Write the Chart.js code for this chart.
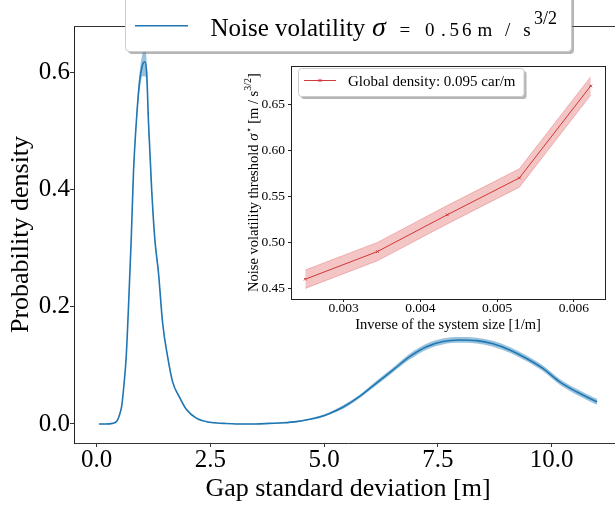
<!DOCTYPE html>
<html><head><meta charset="utf-8">
<script src="https://cdn.jsdelivr.net/npm/chart.js@4/dist/chart.umd.min.js"></script>
<style>
html,body{margin:0;padding:0;background:#fff;overflow:hidden;width:615px;height:508px;position:relative;}
#main{position:absolute;left:0;top:0;}
#inset{position:absolute;left:236px;top:55px;}
</style></head><body>
<canvas id="main" width="630" height="508"></canvas>
<canvas id="inset" width="379" height="280"></canvas>
<script>
// ---------- Main chart data ----------
const gapStd = [0.05,0.20,0.35,0.42,0.46,0.50,0.55,0.59,0.65,0.70,0.76,0.81,0.88,0.94,1.01,1.06,1.10,1.14,1.21,1.28,1.36,1.45,1.56,1.67,1.82,1.97,2.19,2.48,2.80,3.07,3.50,3.80,4.10,4.39,4.68,4.90,5.12,5.41,5.78,6.15,6.51,6.88,7.25,7.61,7.98,8.35,8.71,9.08,9.45,9.81,10.18,10.55,10.91,11.00];
const density = [0.000,0.000,0.001,0.003,0.007,0.015,0.030,0.058,0.115,0.200,0.315,0.430,0.525,0.582,0.614,0.619,0.600,0.515,0.400,0.315,0.258,0.173,0.115,0.072,0.046,0.025,0.010,0.003,0.001,0.000,0.000,0.001,0.002,0.004,0.008,0.012,0.018,0.0285,0.047,0.070,0.092,0.115,0.132,0.141,0.1436,0.1424,0.137,0.1265,0.112,0.095,0.072,0.055,0.041,0.038];
const densityErr = [0.0005,0.0005,0.0005,0.001,0.001,0.002,0.002,0.003,0.004,0.005,0.006,0.007,0.008,0.015,0.02,0.025,0.02,0.012,0.008,0.006,0.005,0.004,0.003,0.002,0.002,0.001,0.001,0.001,0.0005,0.0005,0.0005,0.0005,0.001,0.001,0.001,0.002,0.002,0.003,0.003,0.004,0.004,0.005,0.005,0.005,0.005,0.005,0.005,0.005,0.005,0.005,0.005,0.005,0.005,0.005];
const mainXTicks = [0, 2.5, 5, 7.5, 10];
const mainYTicks = [0, 0.2, 0.4, 0.6];

// ---------- Inset data ----------
const invSize = [0.0025, 0.00344, 0.00435, 0.00529, 0.00622];
const threshold = [0.46, 0.49, 0.53, 0.57, 0.67];
const thresholdErr = [0.01, 0.01, 0.01, 0.01, 0.01];
const insetXTicks = [0.003, 0.004, 0.005, 0.006];
const insetYTicks = [0.45, 0.50, 0.55, 0.60, 0.65];

const SERIF = "'Liberation Serif', 'DejaVu Serif', serif";
Chart.defaults.font.family = SERIF;
Chart.defaults.color = '#000';
Chart.defaults.animation = false;

function pts(xs, ys){ return xs.map((x,i)=>({x:x, y:ys[i]})); }

function drawBox(ctx, x, y, w, h, r){
  ctx.save();
  ctx.fillStyle = 'rgba(110,110,110,0.5)';
  ctx.beginPath(); ctx.roundRect(x+2.5, y+2.5, w, h, r); ctx.fill();
  ctx.fillStyle = '#fff';
  ctx.strokeStyle = '#cccccc';
  ctx.lineWidth = 1;
  ctx.beginPath(); ctx.roundRect(x, y, w, h, r); ctx.fill(); ctx.stroke();
  ctx.restore();
}

// ---------- Main chart ----------
const mainPlugin = {
  id: 'mainDeco',
  afterDraw(chart){
    const ctx = chart.ctx, a = chart.chartArea;
    ctx.save();
    ctx.strokeStyle = '#333'; ctx.lineWidth = 1;
    ctx.beginPath(); ctx.moveTo(a.left, Math.round(a.top)+0.5); ctx.lineTo(a.right, Math.round(a.top)+0.5); ctx.stroke();
    // legend
    drawBox(ctx, 125.5, -6, 446, 57.5, 4);
    ctx.strokeStyle = '#1f77b4'; ctx.lineWidth = 1.6;
    ctx.beginPath(); ctx.moveTo(135, 25.7); ctx.lineTo(188, 25.7); ctx.stroke();
    ctx.fillStyle = '#000'; ctx.textBaseline = 'alphabetic'; ctx.textAlign = 'left';
    const runs = [
      {t:'Noise volatility', x:210.5, y:35.7, f:'25px '+SERIF},
      {t:'σ', x:372, y:35.7, f:'italic 28px '+SERIF},
      {t:'=', x:399.5, y:35.7, f:'19px '+SERIF},
      {t:'0', x:425, y:35.7, f:'19px '+SERIF},
      {t:'.', x:441, y:35.7, f:'19px '+SERIF},
      {t:'5', x:449.5, y:35.7, f:'19px '+SERIF},
      {t:'6', x:462, y:35.7, f:'19px '+SERIF},
      {t:'m', x:477.5, y:35.7, f:'19px '+SERIF},
      {t:'/', x:505, y:35.7, f:'19px '+SERIF},
      {t:'s', x:523.3, y:35.7, f:'19px '+SERIF},
      {t:'3/2', x:534, y:23.5, f:'18px '+SERIF}
    ];
    runs.forEach(r=>{ ctx.font = r.f; ctx.fillText(r.t, r.x, r.y); });
    ctx.restore();
  }
};

new Chart(document.getElementById('main'), {
  type: 'line',
  data: { datasets: [
    { data: pts(gapStd, density.map((v,i)=>v+densityErr[i])), borderWidth:0, pointRadius:0, fill:'+1', backgroundColor:'rgba(31,119,180,0.45)', cubicInterpolationMode:'monotone' },
    { data: pts(gapStd, density.map((v,i)=>v-densityErr[i])), borderWidth:0, pointRadius:0, fill:false, cubicInterpolationMode:'monotone' },
    { data: pts(gapStd, density), borderColor:'#1f77b4', borderWidth:1.6, pointRadius:0, fill:false, cubicInterpolationMode:'monotone' }
  ]},
  options: {
    responsive: false, devicePixelRatio: 1,
    layout: { padding: { top: 26, right: 8, left: 0, bottom: 0 } },
    plugins: { legend: { display: false }, tooltip: { enabled: false } },
    scales: {
      x: { type:'linear', min:-0.4975, max:11.5475,
        afterBuildTicks: s => { s.ticks = mainXTicks.map(v=>({value:v})); },
        afterFit: s => { s.height = 65; },
        grid: { display:true, drawOnChartArea:false, drawTicks:true, tickLength:4, color:'#333', lineWidth:1 },
        border: { display:true, color:'#333', width:1 },
        ticks: { font:{size:25}, padding:-2, maxRotation:0, autoSkip:false, callback: v => v.toFixed(1) },
        title: { display:true, text:'Gap standard deviation [m]', font:{size:26}, padding:{top:0, bottom:3} }
      },
      y: { type:'linear', min:-0.0325, max:0.68,
        afterBuildTicks: s => { s.ticks = mainYTicks.map(v=>({value:v})); },
        afterFit: s => { s.width = 74; },
        grid: { display:true, drawOnChartArea:false, drawTicks:true, tickLength:4, color:'#333', lineWidth:1 },
        border: { display:true, color:'#222', width:1 },
        ticks: { font:{size:25}, padding:0, callback: v => v.toFixed(1) },
        title: { display:true, text:'Probability density', font:{size:26}, padding:{top:6, bottom:0} }
      }
    }
  },
  plugins: [mainPlugin]
});

// ---------- Inset chart ----------
const insetPlugin = {
  id: 'insetDeco',
  beforeDraw(chart){
    const ctx = chart.ctx, a = chart.chartArea;
    ctx.save(); ctx.fillStyle = '#fff'; ctx.fillRect(a.left, a.top, a.right-a.left, a.bottom-a.top); ctx.restore();
  },
  afterDraw(chart){
    const ctx = chart.ctx, a = chart.chartArea;
    ctx.save();
    ctx.strokeStyle = '#222'; ctx.lineWidth = 1;
    ctx.strokeRect(Math.round(a.left)+0.5, Math.round(a.top)+0.5, Math.round(a.right-a.left), Math.round(a.bottom-a.top));
    // y title (rotated rich text)
    const runs = [
      {t:'Noise volatility threshold ', f:'14.5px '+SERIF, dy:0},
      {t:'σ', f:'italic 15px '+SERIF, dy:0},
      {t:'⋆', f:'10px '+SERIF, dy:-6},
      {t:' [m / s', f:'14.5px '+SERIF, dy:0},
      {t:'3/2', f:'10px '+SERIF, dy:-7},
      {t:']', f:'14.5px '+SERIF, dy:0}
    ];
    ctx.fillStyle = '#000'; ctx.textBaseline = 'alphabetic'; ctx.textAlign = 'left';
    let w = 0;
    runs.forEach(r=>{ ctx.font = r.f; r.w = ctx.measureText(r.t).width; w += r.w; });
    ctx.translate(22, (a.top + a.bottom)/2);
    ctx.rotate(-Math.PI/2);
    let x = -w/2;
    runs.forEach(r=>{ ctx.font = r.f; ctx.fillText(r.t, x, r.dy); x += r.w; });
    ctx.restore();
    // legend
    ctx.save();
    drawBox(ctx, 62.5, 13.5, 225.5, 28, 3);
    ctx.strokeStyle = '#d03b3c'; ctx.lineWidth = 1;
    ctx.beginPath(); ctx.moveTo(68, 25.5); ctx.lineTo(100, 25.5); ctx.stroke();
    ctx.beginPath(); ctx.moveTo(82.5, 24); ctx.lineTo(85.5, 27); ctx.moveTo(85.5, 24); ctx.lineTo(82.5, 27); ctx.stroke();
    ctx.fillStyle = '#000'; ctx.font = '15px '+SERIF; ctx.textBaseline = 'alphabetic';
    ctx.fillText('Global density: 0.095 car/m', 112, 31);
    ctx.restore();
  }
};

new Chart(document.getElementById('inset'), {
  type: 'line',
  data: { datasets: [
    { data: pts(invSize, threshold.map((v,i)=>v+thresholdErr[i])), borderWidth:1, borderColor:'rgba(214,39,40,0.27)', pointRadius:0, fill:'+1', backgroundColor:'rgba(214,39,40,0.27)', tension:0 },
    { data: pts(invSize, threshold.map((v,i)=>v-thresholdErr[i])), borderWidth:1, borderColor:'rgba(214,39,40,0.27)', pointRadius:0, fill:false, tension:0 },
    { data: pts(invSize, threshold), borderColor:'#d03b3c', borderWidth:1, pointStyle:'crossRot', pointRadius:1.8, pointBorderColor:'#d03b3c', pointBorderWidth:1, fill:false, tension:0 }
  ]},
  options: {
    responsive: false, devicePixelRatio: 1,
    layout: { padding: { top: 5, right: 10, left: 0, bottom: 0 } },
    plugins: { legend: { display:false }, tooltip: { enabled:false } },
    scales: {
      x: { type:'linear', min:0.002314, max:0.006406,
        afterBuildTicks: s => { s.ticks = insetXTicks.map(v=>({value:v})); },
        afterFit: s => { s.height = 36; },
        grid: { display:true, drawOnChartArea:false, drawTicks:true, tickLength:3, color:'#222' },
        border: { display:false },
        ticks: { font:{size:13.5}, padding:-2, maxRotation:0, autoSkip:false, callback: v => v.toFixed(3) },
        title: { display:true, text:'Inverse of the system size [1/m]', font:{size:14.5}, padding:{top:0, bottom:1} }
      },
      y: { type:'linear', min:0.4385, max:0.6915,
        afterBuildTicks: s => { s.ticks = insetYTicks.map(v=>({value:v})); },
        afterFit: s => { s.width = 55; },
        grid: { display:true, drawOnChartArea:false, drawTicks:true, tickLength:3, color:'#222' },
        border: { display:false },
        ticks: { font:{size:13.5}, padding:3, callback: v => v.toFixed(2) },
        title: { display:false }
      }
    }
  },
  plugins: [insetPlugin]
});
</script>
</body></html>
